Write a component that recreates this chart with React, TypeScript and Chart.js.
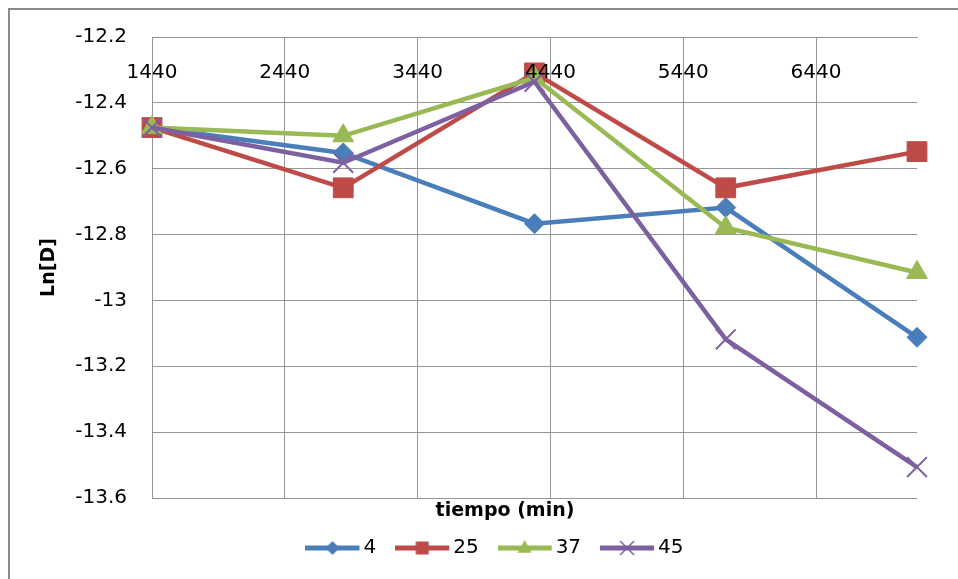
import React, { useEffect, useRef } from "react";
import { Chart, registerables } from "chart.js";

Chart.register(...registerables);

// Diffusion data: Ln[D] against time (min) for each temperature series
const tiempo = [1440, 2880, 4320, 5760, 7200];
const seriesNames = ["4", "25", "37", "45"];
const ln4 = [-12.475, -12.552, -12.767, -12.718, -13.112];
const ln25 = [-12.475, -12.658, -12.309, -12.658, -12.548];
const ln37 = [-12.475, -12.5, -12.324, -12.779, -12.915];
const ln45 = [-12.475, -12.582, -12.336, -13.118, -13.506];
const xTicks = [1440, 2440, 3440, 4440, 5440, 6440];
const yTicks = [-12.2, -12.4, -12.6, -12.8, -13, -13.2, -13.4, -13.6];

const seriesValues = [ln4, ln25, ln37, ln45];
const colors = ["#4A7EBB", "#BE4B48", "#98B954", "#7D60A0"];
const markers = ["rectRot", "rect", "triangle", "crossRot"] as const;
const markerRadius = [10, 14, 12, 14];
const GRID = "#969696";
const FONT = "'DejaVu Sans', sans-serif";
const FONT_SIZE = 20;

// legend swatch geometry: box width reserved by Chart.js and the drawn line length
const SWATCH_BOX = 27;
const SWATCH_LINE = 54;

// Line-with-marker swatch for the legend; the image is centred on the legend box,
// so the line is drawn at its left part and ends just before the label text
function legendSymbol(color: string, marker: string): HTMLCanvasElement {
  const W = 2 * (48 - SWATCH_BOX / 2);
  const H = 22;
  const c = document.createElement("canvas");
  c.width = W;
  c.height = H;
  const ctx = c.getContext("2d")!;
  const cx = SWATCH_LINE / 2;
  const cy = H / 2;
  ctx.strokeStyle = color;
  ctx.fillStyle = color;
  ctx.lineWidth = 5;
  ctx.beginPath();
  ctx.moveTo(0, cy);
  ctx.lineTo(SWATCH_LINE, cy);
  ctx.stroke();
  ctx.beginPath();
  if (marker === "rectRot") {
    const r = 7;
    ctx.moveTo(cx, cy - r);
    ctx.lineTo(cx + r, cy);
    ctx.lineTo(cx, cy + r);
    ctx.lineTo(cx - r, cy);
    ctx.closePath();
    ctx.fill();
  } else if (marker === "rect") {
    const s = 6.5;
    ctx.fillRect(cx - s, cy - s, 2 * s, 2 * s);
  } else if (marker === "triangle") {
    const r = 8;
    ctx.moveTo(cx, cy - r);
    ctx.lineTo(cx + r * 0.87, cy + r * 0.6);
    ctx.lineTo(cx - r * 0.87, cy + r * 0.6);
    ctx.closePath();
    ctx.fill();
  } else {
    const d = 7;
    ctx.lineWidth = 1.5;
    ctx.moveTo(cx - d, cy - d);
    ctx.lineTo(cx + d, cy + d);
    ctx.moveTo(cx + d, cy - d);
    ctx.lineTo(cx - d, cy + d);
    ctx.stroke();
  }
  return c;
}

export default function App() {
  const canvasRef = useRef<HTMLCanvasElement>(null);

  useEffect(() => {
    const symbols = seriesNames.map((_, i) => legendSymbol(colors[i], markers[i]));

    const datasets = seriesNames.map((name, i) => ({
      label: name,
      data: tiempo.map((t, j) => ({ x: t, y: seriesValues[i][j] })),
      borderColor: colors[i],
      backgroundColor: colors[i],
      borderWidth: 4.5,
      pointStyle: markers[i],
      pointRadius: markerRadius[i],
      pointBorderWidth: markers[i] === "crossRot" ? 2 : 1,
      pointBackgroundColor: colors[i],
      pointBorderColor: colors[i],
      tension: 0,
      clip: false as const,
      order: seriesNames.length - i,
    }));

    const chart = new Chart(canvasRef.current!, {
      type: "line",
      data: { datasets },
      options: {
        responsive: false,
        animation: false,
        devicePixelRatio: 1,
        layout: { padding: { top: 0, left: 0, right: 0, bottom: 32 } },
        scales: {
          x: {
            type: "linear",
            position: { y: -12.2 },
            min: 1440,
            max: 7200,
            afterBuildTicks: (scale: any) => {
              scale.ticks = xTicks.map((v) => ({ value: v }));
            },
            grid: { color: GRID, lineWidth: 1, drawTicks: false },
            border: { display: true, color: GRID, width: 1 },
            ticks: {
              padding: 24,
              z: 1,
              color: "#000",
              font: { family: FONT, size: FONT_SIZE },
              maxRotation: 0,
              autoSkip: false,
              callback: (v: any) => String(v),
            },
          },
          y: {
            type: "linear",
            position: "left",
            min: -13.6,
            max: -12.2,
            afterBuildTicks: (scale: any) => {
              scale.ticks = yTicks.map((v) => ({ value: v }));
            },
            afterFit: (scale: any) => {
              scale.width = 142;
            },
            grid: { color: GRID, lineWidth: 1, drawTicks: false },
            border: { display: true, color: GRID, width: 1 },
            ticks: {
              padding: 25,
              color: "#000",
              font: { family: FONT, size: FONT_SIZE },
              autoSkip: false,
              callback: (v: any) => String(v),
            },
            title: {
              display: true,
              text: "Ln[D]",
              color: "#000",
              font: { family: FONT, size: 19, weight: "bold" },
              padding: { top: 28, bottom: 4 },
            },
          },
          // empty right-hand margin beside the plot
          yRight: {
            type: "linear",
            position: "right",
            min: -13.6,
            max: -12.2,
            afterFit: (scale: any) => {
              scale.width = 83;
            },
            grid: { display: false },
            border: { display: false },
            ticks: { display: false },
          },
        },
        plugins: {
          title: {
            display: true,
            position: "bottom",
            text: "tiempo (min)",
            color: "#000",
            weight: 500,
            font: { family: FONT, size: 19, weight: "bold", lineHeight: 1.2 },
            padding: { top: 2, bottom: -24.8 },
          } as any,
          legend: {
            position: "bottom",
            labels: {
              usePointStyle: true,
              pointStyleWidth: SWATCH_BOX,
              padding: 40,
              color: "#000",
              font: { family: FONT, size: FONT_SIZE },
              generateLabels: () =>
                seriesNames.map((name, i) => ({
                  text: name,
                  pointStyle: symbols[i],
                  fillStyle: colors[i],
                  strokeStyle: colors[i],
                  lineWidth: 0,
                  hidden: false,
                  datasetIndex: i,
                })),
            },
          },
          tooltip: { enabled: false },
        },
      },
    });
    return () => chart.destroy();
  }, []);

  return (
    <div
      style={{
        position: "fixed",
        left: 8,
        top: 8,
        width: 950,
        height: 571,
        boxSizing: "border-box",
        overflow: "hidden",
        borderTop: "2px solid #8a8a8a",
        borderLeft: "2px solid #8a8a8a",
        background: "#fff",
      }}
    >
      <canvas
        ref={canvasRef}
        width={990}
        height={600}
        style={{ position: "absolute", left: 0, top: -10, display: "block" }}
      />
    </div>
  );
}
